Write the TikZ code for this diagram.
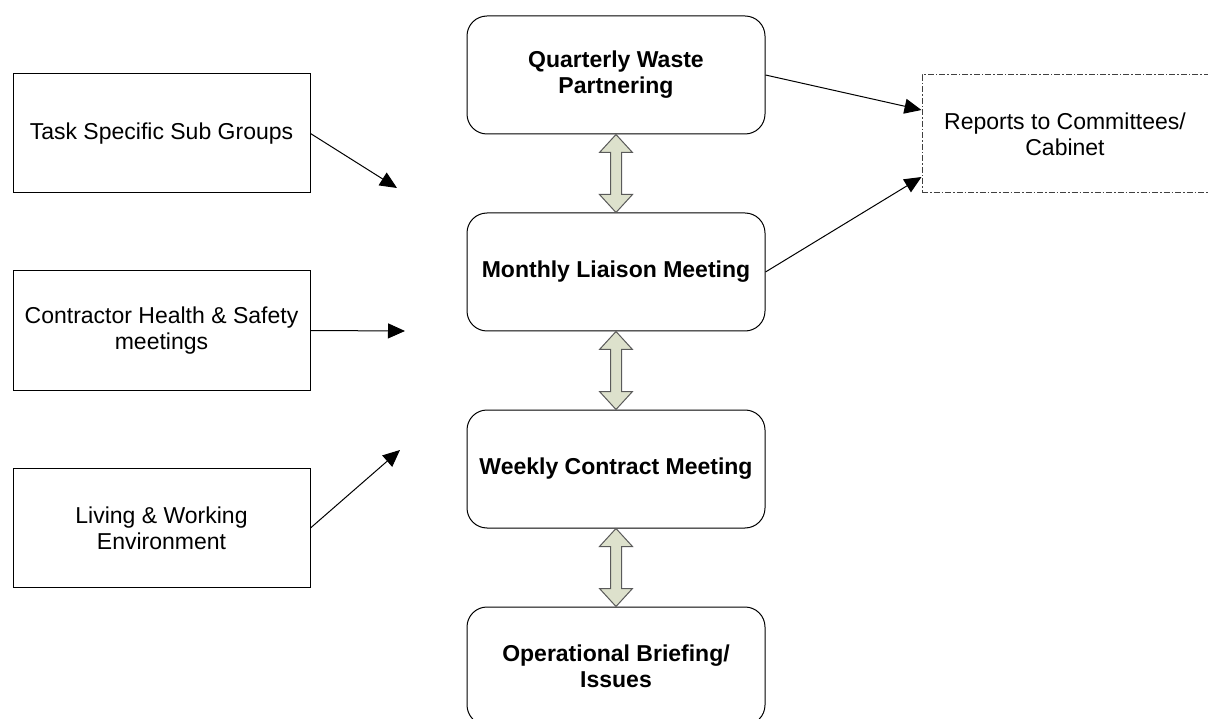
\documentclass[tikz,border=0pt]{standalone}
\usepackage{fontspec}
\setmainfont{Liberation Sans}
\usetikzlibrary{arrows.meta,calc}
\definecolor{dblfill}{HTML}{DDE1CC}
\definecolor{dblline}{HTML}{5A5A5A}
\begin{document}
\begin{tikzpicture}[x=1pt,y=-1pt,
  every node/.style={font=\fontsize{23}{26}\selectfont, align=center, inner sep=0pt},
  plainbox/.style={draw, line width=1pt, minimum width=297pt, minimum height=119pt},
  roundbox/.style={draw, line width=1pt, rounded corners=20pt, minimum width=298pt, minimum height=118pt,
     font=\fontsize{23}{26}\selectfont\bfseries},
  reportbox/.style={draw=black!75, line width=1pt, dash pattern=on 6pt off 2pt on 1.5pt off 2pt,
     minimum width=286pt, minimum height=118pt},
  conn/.style={line width=1pt, -{Triangle[length=17pt,width=15pt]}},
  dblarr/.style={fill=dblfill, draw=dblline, line width=1pt, line join=miter}
]
\useasboundingbox (0,0) rectangle (1208,719);

% left boxes
\node[plainbox] (task) at (161.5,133.5) {Task Specific Sub Groups};
\node[plainbox] (hs) at (161.5,330.5) {Contractor Health \& Safety\\meetings};
\node[plainbox] (live) at (161.5,528) {Living \& Working\\Environment};

% centre column
\node[roundbox] (q) at (616,75) {Quarterly Waste\\Partnering};
\node[roundbox] (m) at (616,272) {Monthly Liaison Meeting};
\node[roundbox] (w) at (616,469) {Weekly Contract Meeting};
\node[roundbox] (o) at (616,666) {Operational Briefing/\\Issues};

% reports
\node[reportbox] (rep) at (1065,134) {Reports to Committees/\\Cabinet};

% free ends of left connectors
\coordinate (tTask) at (397,188);
\coordinate (tHS) at (405,331);
\coordinate (tLive) at (400,450);

\draw[conn] (task.east) -- (tTask);
\draw[conn] (hs.east) -- (tHS);
\draw[conn] (live.east) -- (tLive);

\draw[conn] (q.east) -- (rep.west |- 0,110);
\draw[conn] (m.east) -- (rep.west |- 0,177);

% double arrows
\foreach \a/\b in {q/m, m/w, w/o}{
  \path[dblarr] let \p1=(\a.south), \p2=(\b.north) in
    (\x1,\y1) -- (\x1+16.5pt,\y1-18pt) -- (\x1+5.5pt,\y1-18pt) -- (\x1+5.5pt,\y2+18pt)
    -- (\x1+16.5pt,\y2+18pt) -- (\x1,\y2) -- (\x1-16.5pt,\y2+18pt) -- (\x1-5.5pt,\y2+18pt)
    -- (\x1-5.5pt,\y1-18pt) -- (\x1-16.5pt,\y1-18pt) -- cycle;
}
\end{tikzpicture}
\end{document}
